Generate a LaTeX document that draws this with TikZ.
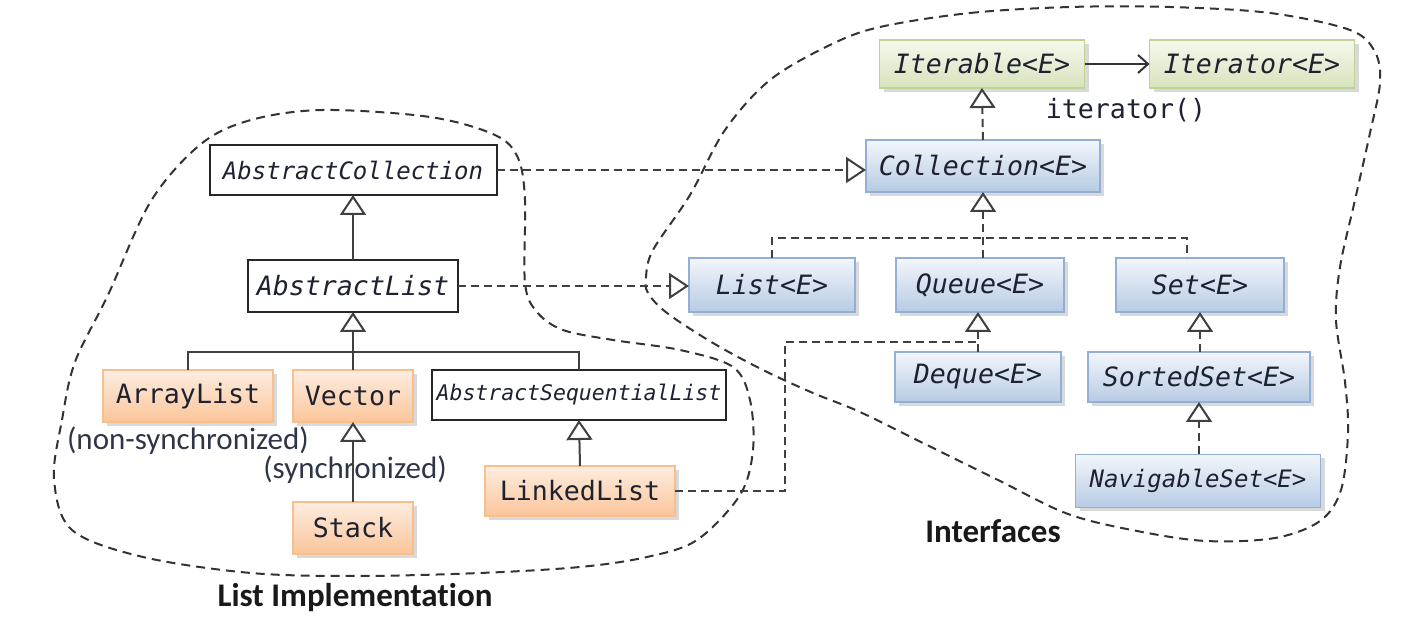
\documentclass[tikz,border=0pt]{standalone}
\usepackage{fontspec}
\setmonofont{DejaVu Sans Mono}
\setsansfont{Carlito}[Ligatures={NoCommon}]
\usetikzlibrary{arrows.meta,shadows}
\definecolor{grnT}{HTML}{F5F9EE}
\definecolor{grnB}{HTML}{D6E3BB}
\definecolor{grnD}{HTML}{BFD396}
\definecolor{bluT}{HTML}{F3F6FB}
\definecolor{bluB}{HTML}{B7CBE4}
\definecolor{bluD}{HTML}{92B0D6}
\definecolor{orgT}{HTML}{FDEDE0}
\definecolor{orgB}{HTML}{FBC59A}
\definecolor{orgD}{HTML}{F7BE8E}
\definecolor{txt}{HTML}{1E2230}
\definecolor{lbltxt}{HTML}{2E3646}
\newcommand\monoA{\ttfamily\fontsize{13.3pt}{15pt}\selectfont}
\newcommand\labfont{\sffamily\fontsize{15.5pt}{17pt}\selectfont}
\begin{document}
\begin{tikzpicture}[x=0.5pt,y=-0.5pt,
  boxbase/.style={inner sep=0pt, outer sep=0pt, text=txt, font=\monoA},
  shad/.style={drop shadow={shadow xshift=2pt, shadow yshift=-2pt, opacity=0.3, fill=black!50}},
  grnbox/.style={boxbase, shad, draw=grnD, line width=0.8pt, top color=grnT, bottom color=grnB, font=\monoA\itshape},
  blubox/.style={boxbase, shad, draw=bluD, line width=0.8pt, top color=bluT, bottom color=bluB, font=\monoA\itshape},
  orgbox/.style={boxbase, shad, draw=orgD, line width=0.8pt, top color=orgT, bottom color=orgB},
  whtbox/.style={boxbase, draw=black!85, line width=1pt, fill=white, font=\monoA\itshape},
  inh/.style={draw=black!75, line width=1pt, -{Triangle[open,length=10pt,width=13pt,fill=white]}},
  impl/.style={inh, dash pattern=on 4pt off 2.5pt},
  plainline/.style={draw=black!75, line width=1pt},
  dashline/.style={plainline, dash pattern=on 4pt off 2.5pt},
  blob/.style={draw=black!80, line width=1pt, dash pattern=on 4.5pt off 3pt},
  lbl/.style={font=\labfont, text=lbltxt, inner sep=0pt},
  ttl/.style={font=\sffamily\bfseries\fontsize{16.5pt}{19pt}\selectfont, text=black!90, inner sep=0pt}
]
\useasboundingbox (0,0) rectangle (1404,624);

% groups
\draw[blob] plot[smooth cycle, tension=0.55] coordinates {(54,479) (62,420) (75,362) (108,295) (151,201) (201,144) (251,120) (323,110) (430,117) (495,135) (518,158) (525,200) (525,283) (537,312) (563,330) (613,340) (680,350) (733,367) (750,400) (753,450) (740,495) (697,540) (647,557) (580,567) (480,573) (358,576) (251,573) (143,557) (72,530)};
\draw[blob] plot[smooth cycle, tension=0.55] coordinates {(880,27) (970,13) (1070,7) (1170,7) (1270,13) (1350,30) (1375,52) (1380,83) (1370,133) (1355,200) (1340,267) (1336,320) (1345,382) (1348,433) (1341,490) (1320,521) (1275,538) (1206,541) (1137,531) (1068,514) (998,480) (929,446) (860,412) (813,393) (763,370) (713,343) (667,313) (648,293) (646,277) (653,250) (690,195) (725,130) (770,80) (830,45)};

% interfaces
\node[grnbox, minimum width=102.5pt, minimum height=24pt] (iterable) at (982,64) {Iterable<E>};
\node[grnbox, minimum width=102.5pt, minimum height=24pt] (iterator) at (1252,64) {Iterator<E>};
\node[blubox, minimum width=117pt, minimum height=26pt] (coll) at (983,166) {Collection<E>};
\node[blubox, minimum width=83pt, minimum height=27pt] (list) at (772,285) {List<E>};
\node[blubox, minimum width=84pt, minimum height=27pt] (queue) at (980,285) {Queue<E>};
\node[blubox, minimum width=84pt, minimum height=27pt] (set) at (1200,285) {Set<E>};
\node[blubox, minimum width=83pt, minimum height=25pt] (deque) at (978,377) {Deque<E>};
\node[blubox, minimum width=111pt, minimum height=25pt] (sorted) at (1199,377) {SortedSet<E>};
\node[blubox, minimum width=122.5pt, minimum height=26.5pt, font=\ttfamily\itshape\fontsize{12pt}{14pt}\selectfont] (navig) at (1198,481) {NavigableSet<E>};
\node[inner sep=0pt, font=\monoA, text=txt] (itlbl) at (1126,110) {iterator()};

% implementations
\node[whtbox, minimum width=143.5pt, minimum height=25pt, font=\ttfamily\itshape\fontsize{12pt}{14pt}\selectfont] (acol) at (353,170) {AbstractCollection};
\node[whtbox, minimum width=105pt, minimum height=26pt] (alist) at (353,286) {AbstractList};
\node[orgbox, minimum width=85pt, minimum height=26pt] (arraylist) at (188,396) {ArrayList};
\node[orgbox, minimum width=60pt, minimum height=26pt] (vector) at (353,396) {Vector};
\node[whtbox, minimum width=147pt, minimum height=25pt, font=\ttfamily\itshape\fontsize{10.75pt}{12pt}\selectfont] (aseq) at (579,395) {AbstractSequentialList};
\node[orgbox, minimum width=95pt, minimum height=25pt] (linked) at (580,491) {LinkedList};
\node[orgbox, minimum width=60pt, minimum height=26pt] (stack) at (353,528) {Stack};

% labels
\node[lbl] (nonsync) at (188,441) {(non-synchronized)};
\node[lbl] (sync) at (355,470) {(synchronized)};
\node[ttl] (iface) at (993,531) {Interfaces};
\node[ttl] (limpl) at (355,598) {List Implementation};

% coordinates for bars
\coordinate (barA) at (353,352);
\coordinate (barC) at (982,238);
\coordinate (setdrop) at (1187,238);
\coordinate (llturn) at (785,342);

% connectors: implementation side
\draw[inh] (alist.north) -- (acol.south);
\draw[inh] (vector.north) -- (alist.south);
\draw[plainline] (arraylist.north) |- (barA) -| (aseq.north);
\draw[inh] (stack.north) -- (vector.south);
\draw[inh] (linked.north) -- (aseq.south);
\draw[impl] (acol.east) -- (acol.east -| coll.west);
\draw[impl] (alist.east) -- (alist.east -| list.west);

% connectors: interface side
\draw[impl] (coll.north) -- (iterable.south);
\draw[impl] (queue.north -| coll.south) -- (coll.south);
\draw[dashline] (list.north) |- (barC) -- (setdrop) -- (setdrop |- set.north);
\draw[impl] (deque.north) -- (queue.south -| deque.north);
\draw[dashline] (linked.east) -| (llturn) -- (llturn -| deque.north);
\draw[impl] (sorted.north -| set.south) -- (set.south);
\draw[impl] (navig.north -| sorted.south) -- (sorted.south);
\draw[draw=black!80, line width=1pt, -{Straight Barb[length=5pt,width=9pt]}] (iterable.east) -- (iterator.west);
\end{tikzpicture}
\end{document}
